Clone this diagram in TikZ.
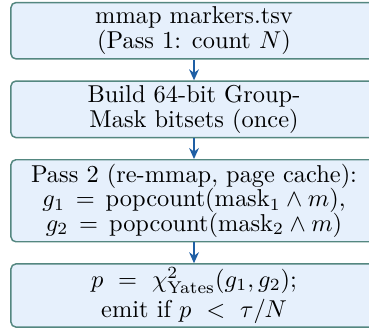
\documentclass[tikz,border=0pt]{standalone}
\usepackage{amsmath}
\usetikzlibrary{positioning,arrows.meta}

\definecolor{boxfill}{RGB}{230,240,252}
\definecolor{boxline}{RGB}{84,135,128}
\definecolor{flowblue}{RGB}{31,95,165}

\newcommand{\stagefont}{\fontsize{10}{10}\selectfont\setlength{\lineskiplimit}{-4pt}}

\tikzset{
  stagebox/.style={draw=boxline, fill=boxfill, line width=0.6pt, rounded corners=2pt,
    minimum width=150pt, inner ysep=1.8pt, align=center, font=\stagefont},
  flow/.style={draw=flowblue, line width=0.7pt, -{Stealth[length=4.5pt,width=4pt]}}
}

\begin{document}
\begin{tikzpicture}[node distance=8.5pt]
  \useasboundingbox (0,0) rectangle (151.2pt,-135.2pt);

  % Pass 1 over the marker file
  \node[stagebox] (pass1) at (79.5pt,-12.6pt) {mmap markers.tsv\\(Pass 1: count $N$)};

  % Group masks
  \node[stagebox, below=of pass1] (masks) {Build 64-bit Group-\\Mask bitsets (once)};

  % Pass 2, popcounts
  \node[stagebox, below=of masks] (pass2) {Pass 2 (re-mmap, page cache):\\
    $g_1 \,=\, \mathrm{popcount}(\mathrm{mask}_1 \wedge m)$,\\
    $g_2 \,=\, \mathrm{popcount}(\mathrm{mask}_2 \wedge m)$};

  % Test and output
  \node[stagebox, inner ysep=1.4pt, below=of pass2] (test) {$p \ = \ \chi^2_{\text{Yates}}(g_1, g_2)$;\\[2.4pt]
    emit if $p \ < \ \tau/N$};

  % Arrows between stages
  \draw[flow] (pass1) -- (masks);
  \draw[flow] (masks) -- (pass2);
  \draw[flow] (pass2) -- (test);
\end{tikzpicture}
\end{document}
